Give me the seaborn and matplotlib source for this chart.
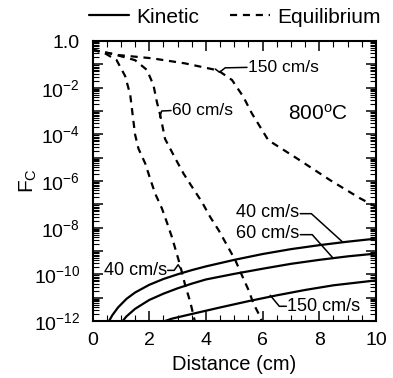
import numpy as np
import matplotlib
matplotlib.use('Agg')
import matplotlib.pyplot as plt
import seaborn as sns
from matplotlib.ticker import LogLocator, MultipleLocator, NullFormatter
from matplotlib.lines import Line2D

# values, F_C given as log10
# equilibrium (dashed)
eq40_x = [0.0, 0.4, 0.85, 1.15, 1.33, 1.5, 1.62, 1.86, 2.03, 2.21, 2.45, 2.62, 2.80, 3.09, 3.27, 3.45, 3.62]
eq40_logf = [-0.38, -0.5, -0.82, -1.5, -2.3, -4.0, -4.61, -5.25, -5.89, -6.54, -7.18, -7.76, -8.40, -9.61, -10.47, -11.19, -12.06]

eq60_x = [0.0, 0.7, 1.5, 1.92, 2.15, 2.27, 2.39, 2.56, 2.92, 3.21, 3.51, 3.86, 4.15, 4.45, 5.04, 5.27, 5.51, 5.68, 5.92, 5.98]
eq60_logf = [-0.38, -0.55, -0.82, -1.24, -1.89, -2.61, -3.18, -4.2, -5.03, -5.68, -6.25, -6.90, -7.54, -8.11, -9.40, -10.04, -10.69, -11.26, -11.83, -12.06]

eq150_x = [0.0, 0.9, 2.09, 3.27, 4.43, 4.92, 5.32, 5.62, 6.2, 7.21, 8.39, 9.45, 10.0]
eq150_logf = [-0.38, -0.6, -0.74, -0.96, -1.26, -1.67, -2.39, -3.10, -4.25, -5.03, -5.97, -6.75, -7.1]

# kinetic (solid)
kin40_x = [0.56, 0.7, 0.9, 1.2, 1.5, 2.0, 2.5, 3.0, 3.5, 4.0, 5.0, 6.0, 7.0, 8.0, 9.0, 10.0]
kin40_logf = [-12.05, -11.75, -11.42, -11.05, -10.78, -10.45, -10.2, -10.0, -9.82, -9.66, -9.38, -9.13, -8.92, -8.75, -8.6, -8.47]

kin60_x = [1.03, 1.2, 1.5, 2.0, 2.5, 3.0, 3.5, 4.0, 5.0, 6.0, 7.0, 8.0, 9.0, 10.0]
kin60_logf = [-12.05, -11.8, -11.48, -11.1, -10.83, -10.6, -10.4, -10.22, -9.98, -9.76, -9.55, -9.38, -9.23, -9.11]

kin150_x = [2.44, 2.8, 3.5, 4.5, 5.5, 6.5, 7.5, 8.5, 10.0]
kin150_logf = [-12.05, -11.9, -11.7, -11.42, -11.15, -10.9, -10.67, -10.47, -10.26]

ytick_exp = list(range(0, -13, -1))
ytick_labels = ['1.0' if e == 0 else ('$10^{%d}$' % e if e % 2 == 0 else '') for e in ytick_exp]
xtick_vals = [0, 2, 4, 6, 8, 10]

sns.set_style('ticks')
plt.rcParams['font.family'] = ['Liberation Sans', 'DejaVu Sans']
plt.rcParams['mathtext.fontset'] = 'custom'
plt.rcParams['mathtext.rm'] = 'Liberation Sans'
plt.rcParams['mathtext.it'] = 'Liberation Sans:italic'
plt.rcParams['mathtext.bf'] = 'Liberation Sans:bold'
plt.rcParams['text.color'] = 'black'
plt.rcParams['axes.labelcolor'] = 'black'

fig = plt.figure(figsize=(3.93, 3.78), dpi=100)
ax = fig.add_axes([0.2354, 0.1508, 0.7213, 0.7407])

dash = (0, (3.2, 2.6))
for xs, ls in [(eq40_x, eq40_logf), (eq60_x, eq60_logf), (eq150_x, eq150_logf)]:
    sns.lineplot(x=xs, y=10.0 ** np.array(ls), ax=ax, color='black', lw=1.6,
                 linestyle=dash, sort=False, estimator=None)
for xs, ls in [(kin40_x, kin40_logf), (kin60_x, kin60_logf), (kin150_x, kin150_logf)]:
    sns.lineplot(x=xs, y=10.0 ** np.array(ls), ax=ax, color='black', lw=1.6,
                 sort=False, estimator=None)

ax.set_yscale('log')
ax.set_xlim(0, 10)
ax.set_ylim(1e-12, 1.0)
ax.set_xticks(xtick_vals)
ax.set_xticklabels([str(v) for v in xtick_vals])
ax.xaxis.set_minor_locator(MultipleLocator(0.5))
ax.set_yticks([10.0 ** e for e in ytick_exp])
ax.set_yticklabels(ytick_labels)
ax.yaxis.set_minor_locator(LogLocator(base=10, subs=np.arange(2, 10), numticks=30))
ax.yaxis.set_minor_formatter(NullFormatter())
ax.tick_params(which='both', direction='in', top=True, right=True, colors='black', labelsize=14)
ax.tick_params(which='major', length=7, width=1.1)
ax.tick_params(which='minor', length=4, width=0.8)
ax.tick_params(axis='y', which='major', pad=9)
ax.tick_params(axis='x', which='major', pad=8)
for s in ax.spines.values():
    s.set_linewidth(1.5)
    s.set_color('black')

ax.set_xlabel('Distance (cm)', fontsize=14.5, labelpad=4)
ax.set_ylabel('F$_\\mathrm{C}$', fontsize=15, labelpad=-4)

# labels with leader lines
lead = dict(color='black', lw=1.1)
def lp(xs, es):
    ax.plot(xs, [10.0 ** e for e in es], **lead)

lp([4.33, 4.48, 4.68, 5.45], [-1.20, -1.34, -1.15, -1.13])
ax.text(5.5, 10 ** -1.13, '150 cm/s', fontsize=12.5, ha='left', va='center')

lp([2.37, 2.44, 2.77], [-3.26, -3.0, -2.98])
ax.text(2.8, 10 ** -2.98, '60 cm/s', fontsize=12.5, ha='left', va='center')

ax.text(6.9, 10 ** -3.1, '800$^\\mathrm{o}$C', fontsize=15, ha='left', va='center')

lp([7.33, 7.72, 8.81], [-7.4, -7.4, -8.6])
ax.text(7.3, 10 ** -7.35, '40 cm/s', fontsize=13, ha='right', va='center')

lp([7.33, 7.75, 8.46], [-8.3, -8.3, -9.27])
ax.text(7.3, 10 ** -8.25, '60 cm/s', fontsize=13, ha='right', va='center')

lp([6.27, 6.59, 6.84], [-10.9, -11.37, -11.37])
ax.text(6.87, 10 ** -11.37, '150 cm/s', fontsize=13, ha='left', va='center')

lp([2.65, 2.88, 3.02, 3.13], [-9.83, -9.83, -9.59, -9.79])
ax.text(2.62, 10 ** -9.83, '40 cm/s', fontsize=13, ha='right', va='center')

handles = [Line2D([], [], color='black', lw=1.6),
           Line2D([], [], color='black', lw=1.6, linestyle=dash)]
fig.legend(handles, ['Kinetic', 'Equilibrium'], loc='center', bbox_to_anchor=(0.597, 0.955),
           ncol=2, frameon=False, fontsize=15, handlelength=1.9, handletextpad=0.35,
           columnspacing=1.5)

fig.savefig('out.png', dpi=100)
